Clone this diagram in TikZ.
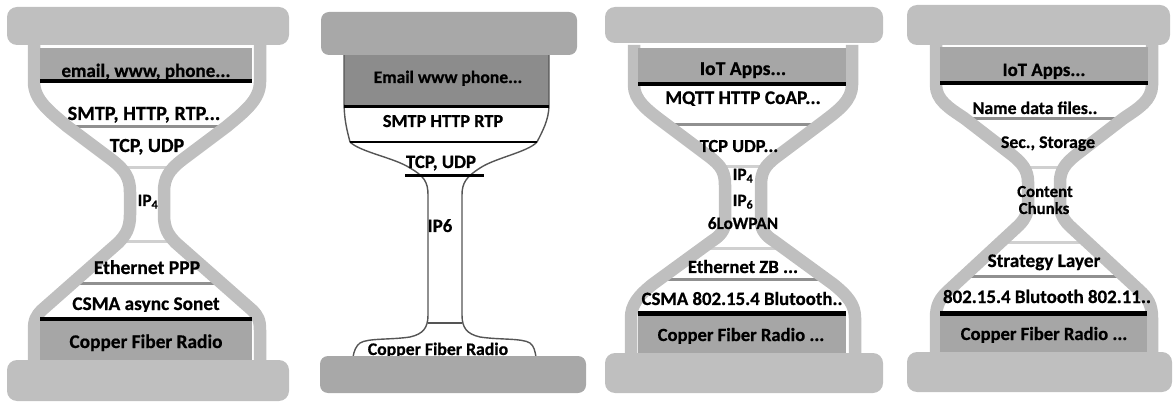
\documentclass[tikz,border=0pt]{standalone}
\usepackage{fontspec}
\setmainfont{Carlito}[BoldFeatures={FakeBold=0.6}]
\definecolor{capgray}{HTML}{BFBFBF}
\definecolor{boxgray}{HTML}{A6A6A6}
\definecolor{sepgray}{HTML}{909090}
\definecolor{neckgray}{HTML}{D0D0D0}
\definecolor{darkbox}{HTML}{8C8C8C}
\definecolor{outl}{HTML}{555555}
\definecolor{capgrayB}{HTML}{A8A8A8}
\tikzset{
  wall/.style={draw=capgray, line width=12.5pt, line join=round},
  sepline/.style={draw=sepgray, line width=3pt},
  neckline/.style={draw=neckgray, line width=3pt},
  blk/.style={draw=black, line width=3.5pt},
  capbox/.style={fill=capgray, rounded corners=10pt},
  capboxB/.style={fill=capgrayB, rounded corners=8pt},
  layerbox/.style={fill=boxgray},
  outlinepath/.style={draw=outl, line width=1.4pt},
  lbl/.style={font=\bfseries\fontsize{#1}{#1}\selectfont, inner sep=0pt, anchor=base, text=black},
  lbl/.default=19.4,
  wallA/.pic={\draw[wall] (-113,45) -- (-113,82) .. controls (-113,100) and (-97,112) .. (-79,127) -- (-35,160) .. controls (-22,170) and (-17,178) .. (-17,192) -- (-17,215) .. controls (-17,228) and (-21,235) .. (-29,243) -- (-105,310) .. controls (-111,316) and (-113,320) .. (-113,330) -- (-113,362);},
  wallC/.pic={\draw[wall] (-109,45) -- (-109,85) .. controls (-109,100) and (-96,110) .. (-80,122) -- (-32,158) .. controls (-22,166) and (-18,172) .. (-18,185) -- (-18,222) .. controls (-18,230) and (-23,236) .. (-31,241) -- (-90,284) .. controls (-105,296) and (-112,305) .. (-112,318) -- (-112,355);},
  wallD/.pic={\draw[wall] (-108,45) -- (-108,85) .. controls (-108,100) and (-95,108) .. (-80,118) -- (-32,155) .. controls (-22,163) and (-16,170) .. (-16,182) -- (-16,205) .. controls (-16,214) and (-20,221) .. (-28,228) -- (-95,290) .. controls (-104,298) and (-108,305) .. (-108,318) -- (-108,354);}
}
\begin{document}
\begin{tikzpicture}[x=1pt,y=-1pt]
\useasboundingbox (0,0) rectangle (1175,403);

% ---------------- Hourglass 1 ----------------
\begin{scope}[shift={(147,0)}]
  \draw[sepline] (-79,127) -- (79,127);
  \draw[neckline] (-27,168) -- (27,168);
  \draw[neckline] (-31,242) -- (31,242);
  \draw[sepline] (-78,284) -- (78,284);
  \pic {wallA};
  \pic[xscale=-1] {wallA};
  \fill[layerbox] (-107,48) rectangle (105,81);
  \fill[layerbox] (-107,319) rectangle (105,361);
  \draw[blk] (-107,81) -- (105,81);
  \draw[blk, line width=4pt] (-107,319) -- (105,319);
  \fill[capbox] (-140,7) rectangle (142,45);
  \fill[capbox] (-140,360) rectangle (142,401);
  \begin{scope}
    \clip (-107,48) rectangle (105,78.3);
    \node[lbl=19] (a1) at (-1,77) {email, www, phone...};
  \end{scope}
  \node[lbl=20.2] (a2) at (-3,120) {SMTP, HTTP, RTP...};
  \node[lbl=20] (a3) at (0,152) {TCP, UDP};
  \node[lbl=17.3] (a4) at (1,206) {IP\textsubscript{4}};
  \node[lbl=19.6] (a5) at (0,274) {Ethernet PPP};
  \begin{scope}
    \clip (-107,290) rectangle (105,311);
    \node[lbl=19.3] (a6) at (-1,310) {CSMA async Sonet};
  \end{scope}
  \node[lbl=19.3] (a7) at (-1,348) {Copper Fiber Radio};
\end{scope}

% ---------------- Hourglass 2 ----------------
\fill[darkbox] (344,55) rectangle (549,107);
\draw[outlinepath] (344,55) -- (344,100) .. controls (344,120) and (347,130) .. (350,142)
  .. controls (360,152) and (395,158) .. (410,168) .. controls (424,176) and (428,182) .. (428,195)
  -- (428,315) .. controls (428,328) and (423,334) .. (410,337) .. controls (390,340) and (368,338) .. (360,343)
  .. controls (356,346) and (354,351) .. (353,357);
\draw[outlinepath] (549,55) -- (549,105) .. controls (549,120) and (542,132) .. (537,142)
  .. controls (528,152) and (495,158) .. (480,168) .. controls (466,177) and (462,183) .. (462,195)
  -- (462,315) .. controls (462,328) and (467,334) .. (480,337) .. controls (500,340) and (522,338) .. (530,343)
  .. controls (534,346) and (535,351) .. (536,357);
\draw[blk, line width=3pt] (344,107) -- (549,107);
\draw[blk, line width=2.5pt] (350,142) -- (537,142);
\draw[blk, line width=3pt] (405,176) -- (484,176);
\draw[outlinepath] (428,323) -- (462,323);
\node[lbl=17.6] (b1) at (448,83) {Email www phone...};
\node[lbl=18.3] (b2) at (443,127) {SMTP HTTP RTP};
\node[lbl=18.8] (b3) at (441,168) {TCP, UDP};
\node[lbl=18.8] (b4) at (440,232) {IP6};
\node[lbl=17.7] (b5) at (438,355) {Copper Fiber Radio};
\fill[capboxB] (321,12) rectangle (577,55);
\fill[capboxB] (320,356) rectangle (586,393);

% ---------------- Hourglass 3 ----------------
\begin{scope}[shift={(743,0)}]
  \draw[sepline] (-78,125) -- (78,125);
  \draw[neckline] (-25,167) -- (25,167);
  \draw[neckline] (-46,249) -- (46,249);
  \draw[sepline] (-86,280) -- (86,280);
  \pic {wallC};
  \pic[xscale=-1] {wallC};
  \fill[layerbox] (-105,48) rectangle (103,84);
  \fill[layerbox] (-105,313) rectangle (103,353);
  \draw[blk] (-105,84) -- (103,84);
  \draw[blk, line width=5pt] (-105,313) -- (103,313);
  \fill[capbox] (-138,7) rectangle (140,43);
  \fill[capbox] (-138,353) rectangle (140,393);
  \node[lbl=19.6] (c1) at (0,75) {IoT Apps...};
  \begin{scope}
    \clip (-105,86) rectangle (103,105.5);
    \node[lbl=19.3] (c2) at (0,104) {MQTT HTTP CoAP...};
  \end{scope}
  \node[lbl=18.4] (c3) at (-4,152) {TCP UDP...};
  \node[lbl=17.3] (c4) at (0,180) {IP\textsubscript{4}};
  \node[lbl=17.3] (c5) at (0,206) {IP\textsubscript{6}};
  \node[lbl=17.3] (c6) at (0,229) {6LoWPAN};
  \node[lbl=18.7] (c7) at (0,273) {Ethernet ZB ...};
  \node[lbl=18.8] (c8) at (-1,305) {CSMA 802.15.4 Blutooth..};
  \node[lbl=18.6] (c9) at (-2,341) {Copper Fiber Radio ...};
\end{scope}

% ---------------- Hourglass 4 ----------------
\begin{scope}[shift={(1044,0)}]
  \draw[sepline] (-80,119) -- (80,119);
  \draw[neckline] (-24,168) -- (24,168);
  \draw[neckline] (-46,243) -- (46,243);
  \draw[sepline] (-81,277) -- (81,277);
  \pic {wallD};
  \pic[xscale=-1] {wallD};
  \fill[layerbox] (-104,47) rectangle (104,83);
  \fill[layerbox] (-104,313) rectangle (103,352);
  \draw[blk] (-104,83) -- (104,83);
  \draw[blk, line width=5pt] (-104,313) -- (103,313);
  \fill[capbox] (-137,5) rectangle (126,45);
  \fill[capbox] (-137,352) rectangle (128,392);
  \node[lbl=18.8] (d1) at (0,76) {IoT Apps...};
  \node[lbl=17.8] (d2) at (-9,114) {Name data files..};
  \node[lbl=17.8] (d3) at (4,148) {Sec., Storage};
  \node[lbl=16.8] (d4) at (1,197) {Content};
  \node[lbl=16.8] (d5) at (0,214) {Chunks};
  \node[lbl=19.2] (d6) at (0,267) {Strategy Layer};
  \node[lbl=18.9] (d7) at (3,303) {802.15.4 Blutooth 802.11..};
  \node[lbl=18.6] (d8) at (0,340) {Copper Fiber Radio ...};
\end{scope}
\end{tikzpicture}
\end{document}
